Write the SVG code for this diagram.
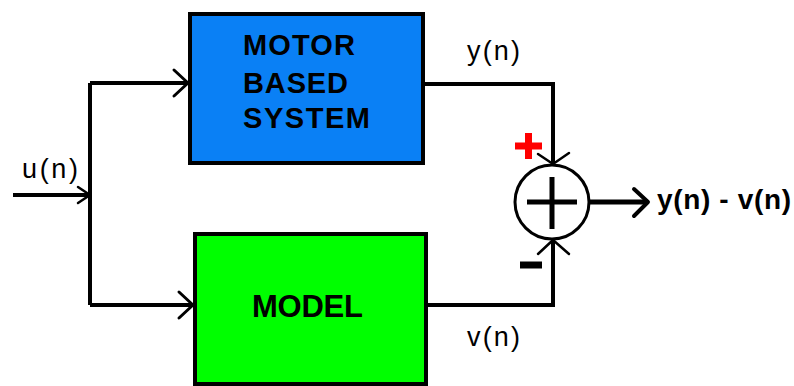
<svg xmlns="http://www.w3.org/2000/svg" width="794" height="386" viewBox="0 0 794 386">
<style>
.box{stroke:#000;stroke-width:4}
.wire{fill:none;stroke:#000;stroke-width:4;stroke-linejoin:miter}
.head{fill:none;stroke:#000;stroke-width:3;stroke-linecap:round;stroke-linejoin:round}
.lbl{font-family:"Liberation Sans",Arial,sans-serif;font-size:27px;fill:#000}
.blk{font-family:"Liberation Sans",Arial,sans-serif;font-weight:bold;font-size:29px;fill:#000}
</style>
<rect width="794" height="386" fill="#fff"/>
<g id="connectors">
  <path class="wire" d="M13,195 H90"/>
  <path class="wire" d="M90,83 V305"/>
  <path class="wire" d="M90,83 H188"/>
  <path class="wire" d="M90,305 H193"/>
  <path class="wire" d="M425,84 H553 V164"/>
  <path class="wire" d="M428,305 H553 V240"/>
  <path class="wire" d="M589,202 H648" style="stroke-width:5"/>
  <path class="head" d="M78,187 L90,195 L78,203" style="stroke-width:2.5"/>
  <path class="head" d="M174,70 L188,83 L174,96"/>
  <path class="head" d="M179,292 L193,305 L179,318"/>
  <path class="head" d="M538,154 L553,164 L569,153" style="stroke-width:2.5"/>
  <path class="head" d="M538,254 L553,240 L569,254" style="stroke-width:2.5"/>
  <path class="head" d="M634,189 L648,202 L634,216" style="stroke-width:4"/>
</g>
<g id="motor">
  <rect class="box" x="190" y="14" width="233" height="149" fill="#0a80f5"/>
  <text class="blk" x="243" y="55" textLength="112">MOTOR</text>
  <text class="blk" x="243" y="93" textLength="105">BASED</text>
  <text class="blk" x="243" y="128" textLength="127">SYSTEM</text>
</g>
<g id="model">
  <rect class="box" x="195" y="234" width="231" height="150" fill="#00ff00"/>
  <text class="blk" x="252" y="317" textLength="111" style="font-size:31px">MODEL</text>
</g>
<g id="sum">
  <circle cx="552" cy="202" r="37" fill="#fff" stroke="#000" stroke-width="3"/>
  <path d="M527,202 H577 M552,177 V229" stroke="#000" stroke-width="5" fill="none"/>
</g>
<g id="signs">
  <path d="M515,146 H542 M528.5,133 V159" stroke="#f00" stroke-width="7" fill="none"/>
  <path d="M520,265 H542" stroke="#000" stroke-width="7" fill="none"/>
</g>
<g id="labels">
  <text class="lbl" x="22" y="178" textLength="56">u(n)</text>
  <text class="lbl" x="467" y="60" textLength="53">y(n)</text>
  <text class="lbl" x="467" y="346" textLength="53">v(n)</text>
  <text class="lbl" x="657" y="209" textLength="134" style="font-size:28px;font-weight:bold">y(n) - v(n)</text>
</g>
</svg>
